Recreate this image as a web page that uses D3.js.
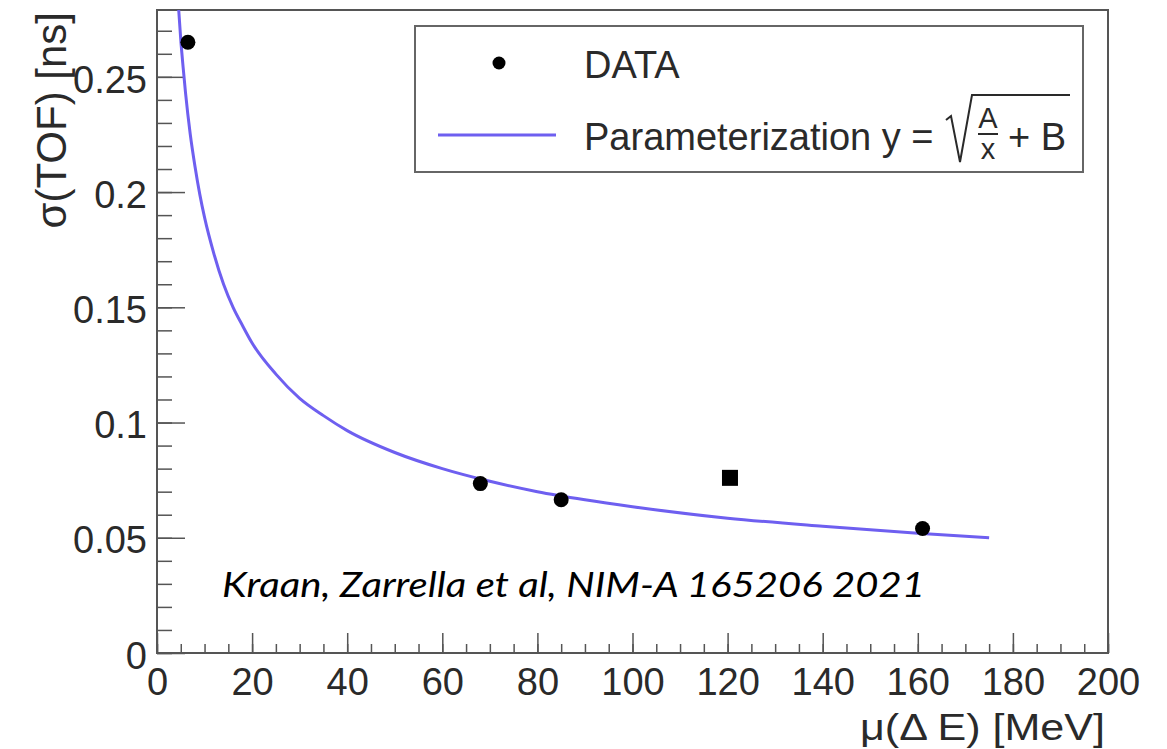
<!DOCTYPE html>
<html>
<head>
<meta charset="utf-8">
<script src="https://cdn.jsdelivr.net/npm/d3@7"></script>
<style>
  html, body { margin: 0; padding: 0; background: #fff; }
  svg { display: block; }
  .tick text { font-family: "Liberation Sans", Arial, sans-serif; fill: #2a2a2a; }
  .axis-title { font-family: "Liberation Sans", Arial, sans-serif; fill: #2a2a2a; }
  .legend-text { font-family: "Liberation Sans", Arial, sans-serif; fill: #2a2a2a; }
  .credit { font-family: Lato, "Open Sans", sans-serif; font-style: italic; fill: #000; }
</style>
</head>
<body>
<div id="chart"></div>
<script>
// ── Data ─────────────────────────────────────────────────────────
const dataX = [6.5, 68, 85, 161];
const dataY = [0.265, 0.0735, 0.0665, 0.054];

const squareX = [120.5];
const squareY = [0.076];

// parameterization curve
const curveX = [4.5, 5, 5.5, 6, 7, 8, 9, 10, 12, 14, 16, 18, 20, 25, 30, 35, 40, 50, 60, 70, 80, 90, 100, 120, 140, 160, 175];
const curveY = [0.281, 0.266, 0.254, 0.243, 0.225, 0.211, 0.199, 0.189, 0.173, 0.160, 0.150, 0.142, 0.1345, 0.121, 0.1105, 0.103, 0.0965, 0.087, 0.080, 0.0745, 0.070, 0.0665, 0.0635, 0.0585, 0.055, 0.052, 0.050];

const xTicks = [0, 20, 40, 60, 80, 100, 120, 140, 160, 180, 200];
const yTicks = [0, 0.05, 0.1, 0.15, 0.2, 0.25];
const yTickLabels = ["0", "0.05", "0.1", "0.15", "0.2", "0.25"];

// ── Layout ───────────────────────────────────────────────────────
const width = 1167;
const height = 749;
const frame = { left: 157, right: 1108, top: 10, bottom: 653 };
const lineColor = "#6e5ff0";
const axisColor = "#555";

const svg = d3.select("#chart")
    .append("svg")
    .attr("width", width)
    .attr("height", height);

svg.append("rect").attr("width", width).attr("height", height).attr("fill", "#fff");

// Scales
const xScale = d3.scaleLinear()
    .domain([0, 200])
    .range([frame.left, frame.right]);

const yScale = d3.scaleLinear()
    .domain([0, 0.279])
    .range([frame.bottom, frame.top]);

// Minor ticks
const xMinor = d3.axisBottom(xScale)
    .tickValues(d3.range(0, 201, 5))
    .tickSizeInner(-9).tickSizeOuter(0).tickFormat("");
svg.append("g")
    .attr("transform", `translate(0,${frame.bottom})`)
    .call(xMinor)
    .call(g => g.select(".domain").remove())
    .call(g => g.selectAll("line").attr("stroke", axisColor).attr("stroke-width", 1.5));

const yMinor = d3.axisLeft(yScale)
    .tickValues(d3.range(0, 28).map(i => i * 0.01))
    .tickSizeInner(-15).tickSizeOuter(0).tickFormat("");
svg.append("g")
    .attr("transform", `translate(${frame.left},0)`)
    .call(yMinor)
    .call(g => g.select(".domain").remove())
    .call(g => g.selectAll("line").attr("stroke", axisColor).attr("stroke-width", 1.5));

// Major ticks + labels
const bottomAxis = d3.axisBottom(xScale)
    .tickValues(xTicks)
    .tickSizeInner(-20).tickSizeOuter(0).tickPadding(15)
    .tickFormat(d3.format("d"));
svg.append("g")
    .attr("transform", `translate(0,${frame.bottom})`)
    .call(bottomAxis)
    .call(g => g.select(".domain").remove())
    .call(g => g.selectAll("line").attr("stroke", axisColor).attr("stroke-width", 1.5))
    .call(g => g.selectAll("text").style("font-size", "38px"));

const leftAxis = d3.axisLeft(yScale)
    .tickValues(yTicks)
    .tickSizeInner(-28).tickSizeOuter(0).tickPadding(10)
    .tickFormat((d, i) => yTickLabels[i]);
svg.append("g")
    .attr("transform", `translate(${frame.left},0)`)
    .call(leftAxis)
    .call(g => g.select(".domain").remove())
    .call(g => g.selectAll("line").attr("stroke", axisColor).attr("stroke-width", 1.5))
    .call(g => g.selectAll("text").style("font-size", "38px").attr("dy", "0.4em"));

// Frame
svg.append("rect")
    .attr("x", frame.left)
    .attr("y", frame.top)
    .attr("width", frame.right - frame.left)
    .attr("height", frame.bottom - frame.top)
    .attr("fill", "none")
    .attr("stroke", axisColor)
    .attr("stroke-width", 2);

// Axis titles
svg.append("text")
    .attr("class", "axis-title")
    .text("μ(Δ E) [MeV]")
    .attr("text-anchor", "end")
    .attr("x", 1105)
    .attr("y", 740)
    .attr("textLength", 245)
    .attr("lengthAdjust", "spacingAndGlyphs")
    .style("font-size", "37px");

svg.append("text")
    .attr("class", "axis-title")
    .text("σ(TOF) [ns]")
    .attr("text-anchor", "end")
    .attr("transform", "translate(66,12) rotate(-90)")
    .style("font-size", "42px");

// Parameterization curve
svg.append("clipPath").attr("id", "plot-clip")
    .append("rect")
    .attr("x", frame.left).attr("y", frame.top)
    .attr("width", frame.right - frame.left)
    .attr("height", frame.bottom - frame.top);

const line = d3.line()
    .x(i => xScale(curveX[i]))
    .y(i => yScale(curveY[i]))
    .curve(d3.curveMonotoneX);

svg.append("path")
    .datum(d3.range(curveX.length))
    .attr("d", line)
    .attr("clip-path", "url(#plot-clip)")
    .attr("fill", "none")
    .attr("stroke", lineColor)
    .attr("stroke-width", 3);

// Data points
svg.selectAll(".dot")
    .data(dataX)
    .join("circle")
    .attr("class", "dot")
    .attr("cx", d => xScale(d))
    .attr("cy", (d, i) => yScale(dataY[i]))
    .attr("r", 7.5)
    .attr("fill", "#000");

svg.selectAll(".sq")
    .data(squareX)
    .join("rect")
    .attr("class", "sq")
    .attr("x", d => xScale(d) - 8)
    .attr("y", (d, i) => yScale(squareY[i]) - 8)
    .attr("width", 16)
    .attr("height", 16)
    .attr("fill", "#000");

// Legend
const legend = svg.append("g");
legend.append("rect")
    .attr("x", 415).attr("y", 26)
    .attr("width", 668).attr("height", 146)
    .attr("fill", "#fff")
    .attr("stroke", "#666")
    .attr("stroke-width", 2);

legend.append("circle")
    .attr("cx", 499).attr("cy", 63).attr("r", 6.5).attr("fill", "#000");
legend.append("text")
    .attr("class", "legend-text")
    .attr("x", 584).attr("y", 78)
    .style("font-size", "38px")
    .text("DATA");

legend.append("line")
    .attr("x1", 438).attr("x2", 556)
    .attr("y1", 135).attr("y2", 135)
    .attr("stroke", lineColor).attr("stroke-width", 3);
legend.append("text")
    .attr("class", "legend-text")
    .attr("x", 584).attr("y", 150)
    .style("font-size", "38px")
    .text("Parameterization y =");

// sqrt sign and fraction
legend.append("path")
    .attr("d", "M946,120 L951,116 L960,162 L972,95 L1070,95")
    .attr("fill", "none")
    .attr("stroke", "#2a2a2a")
    .attr("stroke-width", 2);
legend.append("text")
    .attr("class", "legend-text")
    .attr("x", 988).attr("y", 128)
    .attr("text-anchor", "middle")
    .style("font-size", "29px")
    .text("A");
legend.append("line")
    .attr("x1", 978).attr("x2", 998)
    .attr("y1", 134).attr("y2", 134)
    .attr("stroke", "#2a2a2a").attr("stroke-width", 2);
legend.append("text")
    .attr("class", "legend-text")
    .attr("x", 988).attr("y", 159)
    .attr("text-anchor", "middle")
    .style("font-size", "29px")
    .text("x");
legend.append("text")
    .attr("class", "legend-text")
    .attr("x", 1008).attr("y", 150)
    .style("font-size", "38px")
    .text("+ B");

// Credit
svg.append("text")
    .attr("class", "credit")
    .attr("x", 222).attr("y", 597)
    .attr("textLength", 703)
    .attr("lengthAdjust", "spacingAndGlyphs")
    .style("font-size", "34px")
    .text("Kraan, Zarrella et al, NIM-A 165206 2021");
</script>
</body>
</html>
